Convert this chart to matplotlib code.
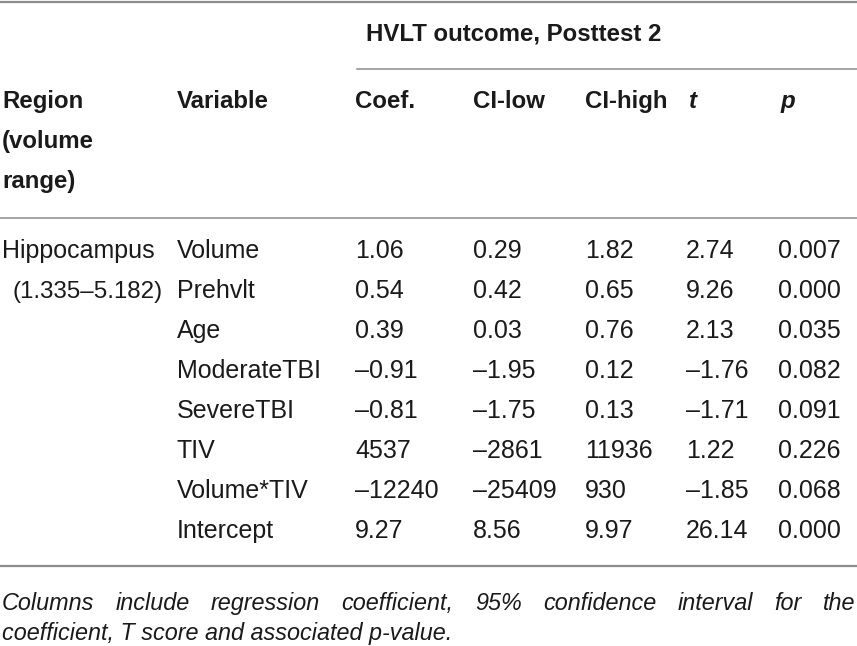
import matplotlib
matplotlib.use("Agg")
from matplotlib import pyplot as plt

# table content
region = "Hippocampus"
region_range = "(1.335–5.182)"
variables = ["Volume", "Prehvlt", "Age", "ModerateTBI", "SevereTBI", "TIV", "Volume*TIV", "Intercept"]
coef = [1.06, 0.54, 0.39, -0.91, -0.81, 4537, -12240, 9.27]
ci_low = [0.29, 0.42, 0.03, -1.95, -1.75, -2861, -25409, 8.56]
ci_high = [1.82, 0.65, 0.76, 0.12, 0.13, 11936, 930, 9.97]
t_score = [2.74, 9.26, 2.13, -1.76, -1.71, 1.22, -1.85, 26.14]
p_value = [0.007, 0.000, 0.035, 0.082, 0.091, 0.226, 0.068, 0.000]

group_title = "HVLT outcome, Posttest 2"
col_heads = ["Coef.", "CI-low", "CI-high"]
caption_1 = "Columns include regression coefficient, 95% confidence interval for the"
caption_2 = "coefficient, T score and associated p-value."


def fmt(v, dec=2):
    # big numbers are shown as integers, minus sign is an en dash
    s = "%d" % round(v) if abs(v) >= 100 else "%.*f" % (dec, v)
    return s.replace("-", "–")


plt.rcParams['font.family'] = ['Liberation Sans', 'DejaVu Sans']
TXT = "#1a1a1a"
LINE = "#8c8c8c"
HFS = 17.3   # bold header size
FS = 18.0    # body size

fig = plt.figure(figsize=(8.57, 6.46), dpi=100)
ax = fig.add_axes([0, 0, 1, 1])
ax.set_xlim(0, 857)
ax.set_ylim(646, 0)
ax.axis("off")

x_reg, x_var = 2, 177
x_cols = [355, 473, 585, 686, 778]

# rules
ax.plot([0, 857], [2, 2], color=LINE, lw=1.6)
ax.plot([357, 857], [69, 69], color=LINE, lw=1.1)
ax.plot([0, 857], [218, 218], color=LINE, lw=1.1)
ax.plot([0, 857], [566, 566], color=LINE, lw=1.6)

# header
ax.text(366, 40, group_title, fontsize=HFS, fontweight="bold", color=TXT)
for i, line in enumerate(["Region", "(volume", "range)"]):
    ax.text(x_reg, 108 + 40 * i, line, fontsize=HFS, fontweight="bold", color=TXT)
ax.text(x_var, 108, "Variable", fontsize=HFS, fontweight="bold", color=TXT)
for x, h in zip(x_cols[:3], col_heads):
    ax.text(x, 108, h, fontsize=HFS, fontweight="bold", color=TXT)
ax.text(x_cols[3] + 3, 108, "t", fontsize=HFS, fontweight="bold", style="italic", color=TXT)
ax.text(x_cols[4] + 3, 108, "p", fontsize=HFS, fontweight="bold", style="italic", color=TXT)

# body
base = 258
ax.text(x_reg, base, region, fontsize=FS, color=TXT)
ax.text(x_reg + 11, base + 40, region_range, fontsize=17.4, color=TXT)
for i, var in enumerate(variables):
    y = base + 40 * i
    ax.text(x_var, y, var, fontsize=FS, color=TXT)
    ax.text(x_cols[0], y, fmt(coef[i]), fontsize=FS, color=TXT)
    ax.text(x_cols[1], y, fmt(ci_low[i]), fontsize=FS, color=TXT)
    ax.text(x_cols[2], y, fmt(ci_high[i]), fontsize=FS, color=TXT)
    ax.text(x_cols[3], y, fmt(t_score[i]), fontsize=FS, color=TXT)
    ax.text(x_cols[4], y, fmt(p_value[i], 3), fontsize=FS, color=TXT)

# caption, first line justified across the full width
CFS = 16.8
renderer = fig.canvas.get_renderer()
words = caption_1.split()
items = [ax.text(0, 610, w, fontsize=CFS, style="italic", color=TXT) for w in words]
widths = [it.get_window_extent(renderer).width for it in items]
left, right = 2, 855
gap = (right - left - sum(widths)) / (len(words) - 1)
x = left
for it, w in zip(items, widths):
    it.set_x(x)
    x += w + gap
ax.text(2, 640, caption_2, fontsize=CFS, style="italic", color=TXT)

fig.savefig("out.png", dpi=100)
